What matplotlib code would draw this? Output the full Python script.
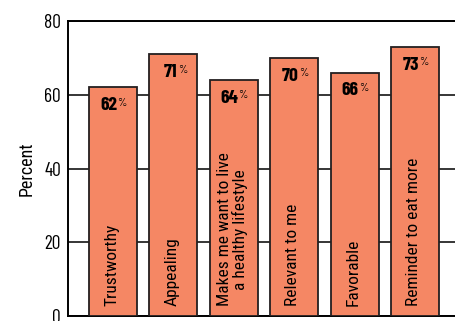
import matplotlib
matplotlib.use("Agg")
import matplotlib.pyplot as plt
from matplotlib import font_manager

categories = ["Trustworthy", "Appealing", "Makes me want to live\na healthy lifestyle",
              "Relevant to me", "Favorable", "Reminder to eat more"]
values = [62, 71, 64, 70, 66, 73]
yticks = [0, 20, 40, 60, 80]

names = {f.name for f in font_manager.fontManager.ttflist}
def pick(cands):
    return next((n for n in cands if n in names), "DejaVu Sans")
NARROW = pick(["Barlow Condensed", "Liberation Sans Narrow"])
TEXT = pick(["Roboto Condensed", "Barlow Semi Condensed", "Liberation Sans Narrow"])
plt.rcParams['font.family'] = [NARROW, 'DejaVu Sans']

W, H = 455, 321
fig = plt.figure(figsize=(W / 100, H / 100), dpi=100)
left_px, right_px, top_px, bot_px = 68, 460, 21, 316
ax = fig.add_axes([left_px / W, (H - bot_px) / H, (right_px - left_px) / W, (bot_px - top_px) / H])

x = list(range(len(categories)))
ax.bar(x, values, width=0.795, color='#F58764', edgecolor='#231F20',
       linewidth=1.3, zorder=3)
ax.set_xlim(-0.745, 5.745)
ax.set_ylim(0, 80)
ax.set_yticks(yticks)
ax.set_yticklabels([str(v) for v in yticks], fontsize=14)
ax.tick_params(axis='y', length=0, pad=5)
ax.set_xticks([])
ax.grid(axis='y', color='black', linewidth=1.1, zorder=0)
for s in ['left', 'bottom', 'top']:
    ax.spines[s].set_linewidth(1.4)
ax.spines['right'].set_visible(False)
ax.set_ylabel("Percent", fontsize=13, labelpad=6, family=[TEXT, 'DejaVu Sans'])

for xi, v, c in zip(x, values, categories):
    ax.annotate(str(v), (xi, v), xytext=(3, -7), textcoords='offset points',
                ha='right', va='top', fontsize=14, fontweight='bold', zorder=4)
    ax.annotate('%', (xi, v), xytext=(3.3, -7.5), textcoords='offset points',
                ha='left', va='top', fontsize=8.5, zorder=4)
    ax.annotate(c, (xi, 0), xytext=(-1, 7), textcoords='offset points',
                ha='center', va='bottom', rotation=90, fontsize=12.5,
                multialignment='center', linespacing=0.95, zorder=4,
                family=[TEXT, 'DejaVu Sans'])

fig.savefig("out.png", dpi=100)
